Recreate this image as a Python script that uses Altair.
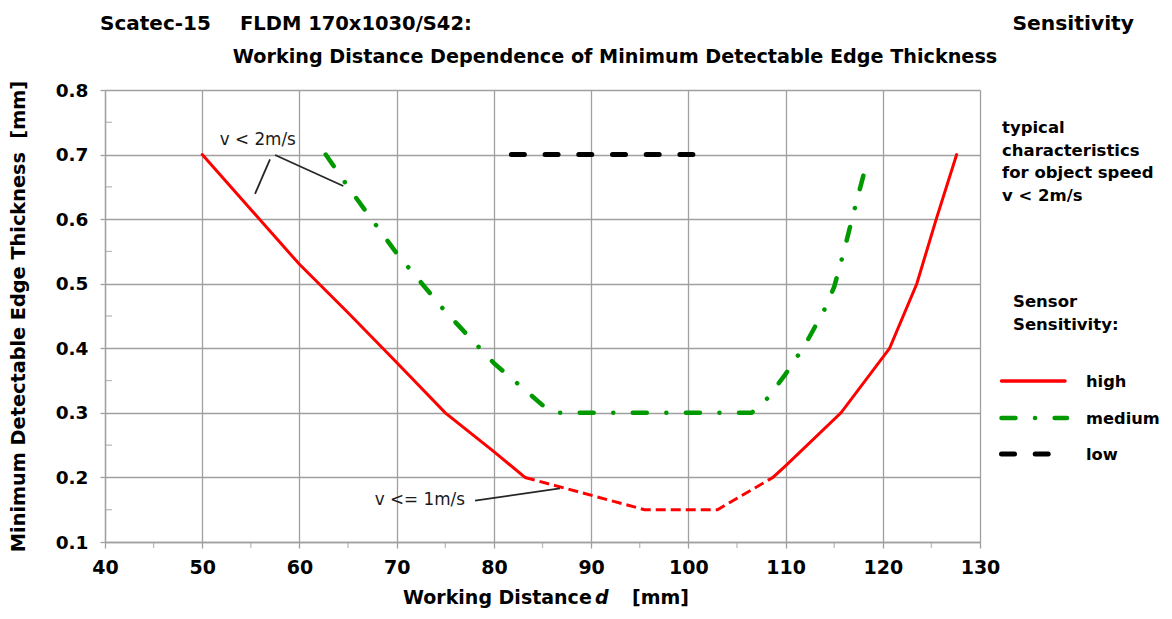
import altair as alt
import pandas as pd

# ---------------- data ----------------
red_left_x = [50, 55, 60, 65, 70, 75, 80, 83.2]
red_left_y = [0.70, 0.615, 0.53, 0.455, 0.378, 0.30, 0.24, 0.20]
red_dash_x = [83.2, 95.5, 103.0, 108.7]
red_dash_y = [0.20, 0.15, 0.15, 0.20]
red_right_x = [108.7, 110, 115.7, 120.7, 123.5, 125.5, 127.6]
red_right_y = [0.20, 0.218, 0.30, 0.40, 0.50, 0.60, 0.70]
green_x = [62.7, 65, 70, 75, 80, 85, 86.5, 106.5, 108, 110, 112, 114, 115, 116, 117, 118.4]
green_y = [0.70, 0.65, 0.547, 0.457, 0.377, 0.312, 0.30, 0.30, 0.32, 0.36, 0.405, 0.46, 0.495, 0.55, 0.61, 0.69]
black_x = [81.8, 100.5]
black_y = [0.70, 0.70]

lead_x = [56.97, 57.49, 78.06]
lead_y = [0.6927, 0.6993, 0.164]
lead_x2 = [55.43, 64.51, 86.80]
lead_y2 = [0.639, 0.6513, 0.183]

ann_text = ["v < 2m/s", "v <= 1m/s"]
ann_x = [51.8, 67.75]
ann_y = [0.7155, 0.158]

x_ticks = [40, 50, 60, 70, 80, 90, 100, 110, 120, 130]
y_ticks = [0.1, 0.2, 0.3, 0.4, 0.5, 0.6, 0.7, 0.8]
x_minor = [45, 55, 65, 75, 85, 95, 105, 115, 125]
y_minor = [0.15, 0.25, 0.35, 0.45, 0.55, 0.65, 0.75]

title_left = ["Scatec-15", "FLDM 170x1030/S42:"]
title_right = "Sensitivity"
subtitle = "Working Distance Dependence of Minimum Detectable Edge Thickness"
x_title = ["Working Distance", "d", "[mm]"]
y_title = "Minimum Detectable Edge Thickness\u00a0\u00a0[mm]"
note_lines = ["typical", "characteristics", "for object speed", "v < 2m/s"]
legend_title = ["Sensor", "Sensitivity:"]
legend_labels = ["high", "medium", "low"]

# ---------------- styling ----------------
FONT = "DejaVu Sans"
GRID = "#a0a0a0"
RED = "#ff0000"
GREEN = "#009a00"
BLACK = "#000000"

xs = alt.Scale(domain=[40, 130], nice=False, zero=False)
ys = alt.Scale(domain=[0.1, 0.8], nice=False, zero=False)

xaxis = alt.Axis(values=x_ticks, format="d", grid=True, gridColor=GRID, gridWidth=1.3,
                 domainColor=GRID, domainWidth=1.3, tickColor=GRID, tickWidth=1.3, tickSize=6,
                 labelFont=FONT, labelFontWeight="bold", labelFontSize=19, labelColor="black",
                 labelPadding=10, labelFlush=False, title=None)
yaxis = alt.Axis(values=y_ticks, format=".1f", grid=True, gridColor=GRID, gridWidth=1.3,
                 domainColor=GRID, domainWidth=1.3, tickColor=GRID, tickWidth=1.3, tickSize=5,
                 labelFont=FONT, labelFontWeight="bold", labelFontSize=18.5, labelColor="black",
                 labelPadding=12, labelFlush=False,
                 title=y_title, titleFont=FONT, titleFontWeight="bold", titleFontSize=19.3,
                 titleColor="black", titleAngle=270, titleX=-87, titleY=226,
                 titleAlign="center", titleBaseline="middle")

X = alt.X("x:Q", scale=xs, axis=xaxis)
Y = alt.Y("y:Q", scale=ys, axis=yaxis)


def df(xv, yv, **extra):
    d = pd.DataFrame({"x": xv, "y": yv})
    for k, v in extra.items():
        d[k] = v
    return d


red_solid = pd.concat([df(red_left_x, red_left_y, seg="a"), df(red_right_x, red_right_y, seg="b")])

layers = []

# minor ticks
layers.append(alt.Chart(df(x_minor, [0.1] * len(x_minor))).mark_tick(
    orient="vertical", size=6, thickness=1.3, color=GRID, yOffset=3).encode(x=X, y=Y))
layers.append(alt.Chart(df([40] * len(y_minor), y_minor)).mark_tick(
    orient="horizontal", size=7, thickness=1.3, color=GRID, xOffset=3.5).encode(x=X, y=Y))

# curves
layers.append(alt.Chart(red_solid).mark_line(color=RED, strokeWidth=3, strokeCap="round").encode(
    x=X, y=Y, detail="seg:N"))
layers.append(alt.Chart(df(red_dash_x, red_dash_y)).mark_line(
    color=RED, strokeWidth=3, strokeDash=[10, 5], strokeCap="butt").encode(x=X, y=Y))
layers.append(alt.Chart(df(green_x, green_y)).mark_line(
    color=GREEN, strokeWidth=4.5, strokeDash=[14, 19.5, 0.1, 19.5], strokeCap="round").encode(x=X, y=Y))
layers.append(alt.Chart(df(black_x, black_y)).mark_line(
    color=BLACK, strokeWidth=5, strokeDash=[13, 20.7], strokeCap="round").encode(x=X, y=Y))

# annotation leaders and texts
lead = pd.DataFrame({"x": lead_x, "y": lead_y, "x2": lead_x2, "y2": lead_y2})
layers.append(alt.Chart(lead).mark_rule(color="#262626", strokeWidth=1.8).encode(
    x=X, y=Y, x2="x2:Q", y2="y2:Q"))
ann = pd.DataFrame({"x": ann_x, "y": ann_y, "t": ann_text})
layers.append(alt.Chart(ann).mark_text(font=FONT, fontSize=16.8, align="left", baseline="alphabetic",
                                       color="#1a1a1a").encode(x=X, y=Y, text="t:N"))

one = pd.DataFrame({"k": [0]})


def label(text, x, y, size=19, weight="bold", align="left", style="normal", lh=None, baseline="alphabetic"):
    kw = dict(text=text, font=FONT, fontSize=size, fontWeight=weight, align=align,
              baseline=baseline, color="black", fontStyle=style)
    if lh is not None:
        kw["lineHeight"] = lh
    return alt.Chart(one).mark_text(**kw).encode(x=alt.value(x), y=alt.value(y))


# titles
layers.append(label(title_left[0], -5, -60, size=20))
layers.append(label(title_left[1], 135, -60, size=19.5))
layers.append(label(title_right, 1029, -60, size=20.3, align="right"))
layers.append(label(subtitle, 510, -27, size=19.2, align="center"))

# x axis title
layers.append(label(x_title[0], 298, 514, size=19))
layers.append(label(x_title[1], 490, 514, size=19, style="italic"))
layers.append(label(x_title[2], 527, 514, size=19))

# right side notes and legend
layers.append(label(note_lines, 897, 43, size=16.5, lh=22.7))
layers.append(label(legend_title, 908, 217, size=16.5, lh=22.7))
legend_y = [291, 328, 364]
for lab, ly in zip(legend_labels, [297, 333.5, 370]):
    layers.append(label(lab, 981, ly, size=16.3))

layers.append(alt.Chart(one).mark_rule(color=RED, strokeWidth=3.5, strokeCap="round").encode(
    x=alt.value(896.5), x2=alt.value(960), y=alt.value(legend_y[0]), y2=alt.value(legend_y[0])))
layers.append(alt.Chart(one).mark_rule(color=GREEN, strokeWidth=4.5, strokeCap="round",
                                       strokeDash=[14, 19.5, 0.1, 19.5]).encode(
    x=alt.value(896.5), x2=alt.value(962), y=alt.value(legend_y[1]), y2=alt.value(legend_y[1])))
layers.append(alt.Chart(one).mark_rule(color=BLACK, strokeWidth=5, strokeCap="round",
                                       strokeDash=[13, 20.7]).encode(
    x=alt.value(896.5), x2=alt.value(962), y=alt.value(legend_y[2]), y2=alt.value(legend_y[2])))

chart = alt.layer(*layers).properties(
    width=875, height=452,
    autosize=alt.AutoSizeParams(type="none"),
    padding={"left": 97, "top": 82, "right": 184, "bottom": 69},
    background="white",
).configure_view(strokeWidth=0)

chart.save("out.html", embed_options={"renderer": "svg", "actions": False})
